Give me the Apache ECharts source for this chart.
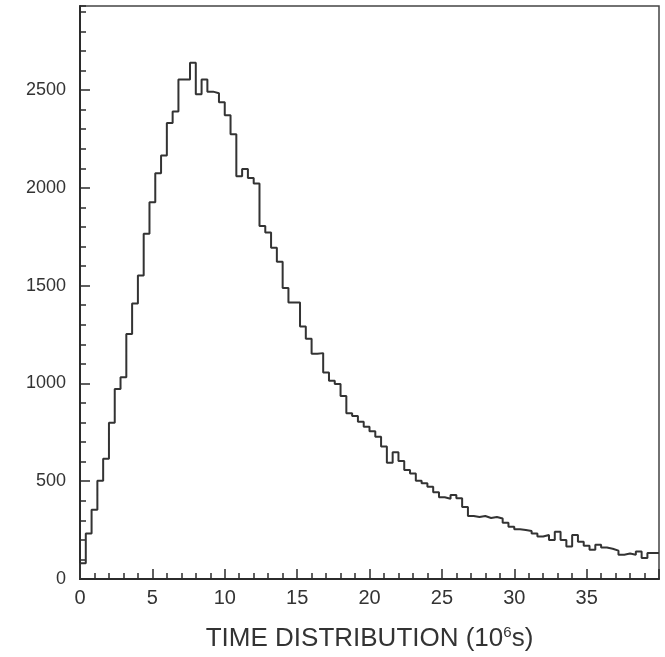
<!DOCTYPE html>
<html>
<head>
<meta charset="utf-8">
<script src="https://cdn.jsdelivr.net/npm/echarts@6/dist/echarts.min.js"></script>
<style>html,body{margin:0;padding:0;background:#fff}#c{width:665px;height:657px}</style>
</head>
<body>
<div id="c"></div>
<script>
// Histogram of time distribution (bin width 0.4 ×10^6 s, 100 bins from 0 to 40)
var binWidth = 0.4;
var counts = [
  80, 233, 354, 502, 615, 799, 972, 1031, 1253, 1409,
  1552, 1765, 1926, 2075, 2165, 2332, 2391, 2554, 2554, 2640,
  2479, 2554, 2492, 2484, 2438, 2371, 2274, 2059, 2097, 2051,
  2022, 1805, 1772, 1694, 1622, 1488, 1414, 1414, 1291, 1229,
  1152, 1155, 1056, 1014, 997, 936, 848, 833, 804, 779,
  755, 728, 678, 594, 648, 603, 558, 539, 502, 490,
  472, 443, 418, 410, 430, 413, 368, 322, 317, 322,
  312, 317, 309, 287, 267, 254, 250, 245, 233, 217,
  225, 200, 242, 200, 166, 225, 191, 170, 150, 175,
  161, 155, 145, 124, 130, 124, 141, 107, 133, 133
];
var xTickLabels = ['0', '5', '10', '15', '20', '25', '30', '35'];
var yTickLabels = ['0', '500', '1000', '1500', '2000', '2500'];
var xTitle = 'TIME DISTRIBUTION (10{sup|6}s)';

var data = [[0, 0]];
for (var i = 0; i < counts.length; i++) data.push([i * binWidth, counts[i]]);
data.push([counts.length * binWidth, counts[counts.length - 1]]);

var ink = '#2b2b2b';
var font = 'Liberation Sans';
var chart = echarts.init(document.getElementById('c'), null, {renderer: 'canvas'});
chart.setOption({
  animation: false,
  backgroundColor: '#fff',
  grid: {left: 80, right: 6, top: 6, bottom: 69, show: true, borderColor: '#444', borderWidth: 1.5},
  xAxis: [{
    type: 'value', min: 0, max: 40, interval: 5,
    axisLine: {show: true, onZero: false, lineStyle: {color: ink, width: 2}},
    axisTick: {show: true, inside: true, length: 10, lineStyle: {color: ink, width: 1.5}},
    splitLine: {show: false},
    axisLabel: {
      margin: 9, fontSize: 20, fontFamily: font, color: '#333',
      formatter: function (v) { var s = String(v); return xTickLabels.indexOf(s) >= 0 ? s : ''; }
    },
    name: xTitle, nameLocation: 'middle', nameGap: 46,
    nameTextStyle: {fontSize: 26, fontFamily: font, color: '#333',
      rich: {sup: {fontSize: 15, fontFamily: font, color: '#333', verticalAlign: 'top', padding: [0, 0, 13, 0]}}}
  }, {
    type: 'value', min: 0, max: 40, interval: 1, position: 'bottom',
    axisLine: {show: false},
    axisTick: {show: true, inside: true, length: 6, lineStyle: {color: ink, width: 1.5}},
    axisLabel: {show: false}, splitLine: {show: false}
  }],
  yAxis: [{
    type: 'value', min: 0, max: 2930, interval: 500,
    axisLine: {show: true, onZero: false, lineStyle: {color: ink, width: 2}},
    axisTick: {show: true, inside: true, length: 10, lineStyle: {color: ink, width: 1.5}},
    splitLine: {show: false},
    axisLabel: {
      margin: 14, fontSize: 18, fontFamily: font, color: '#333', showMaxLabel: false,
      formatter: function (v) { var s = String(v); return yTickLabels.indexOf(s) >= 0 ? s : ''; }
    }
  }, {
    type: 'value', min: 0, max: 2930, interval: 100, position: 'left',
    axisLine: {show: false},
    axisTick: {show: true, inside: true, length: 6, lineStyle: {color: ink, width: 1.5}},
    axisLabel: {show: false}, splitLine: {show: false}
  }],
  series: [{
    type: 'line', step: 'end', data: data, showSymbol: false, symbol: 'none',
    lineStyle: {color: '#333', width: 2}, xAxisIndex: 0, yAxisIndex: 0
  }]
});
</script>
</body>
</html>
